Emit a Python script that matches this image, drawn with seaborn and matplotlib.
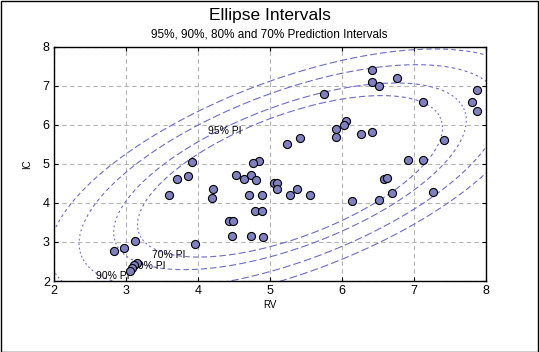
import numpy as np
import pandas as pd
import matplotlib
matplotlib.use("Agg")
import matplotlib.pyplot as plt
import seaborn as sns

# values
rv = [3.92, 3.86, 3.71, 3.60, 3.12, 2.97, 2.84, 3.96, 3.15, 3.11, 3.08, 3.05,
      5.41, 5.24, 4.85, 4.76, 4.53, 4.64, 4.74, 4.81, 4.21, 4.19, 5.06, 5.10,
      5.10, 4.71, 4.89, 5.28, 5.38, 5.56, 4.79, 4.89, 4.43, 4.49, 4.47, 4.74,
      4.90, 6.41, 6.77, 6.41, 6.51, 5.75, 6.06, 6.03, 5.91, 5.91, 6.26, 6.41,
      6.91, 6.58, 6.62, 7.88, 7.12, 7.81, 7.87, 7.41, 7.12, 7.26, 6.70, 6.52,
      6.14]
ic = [5.05, 4.69, 4.62, 4.21, 3.03, 2.85, 2.77, 2.95, 2.46, 2.41, 2.33, 2.26,
      5.67, 5.51, 5.08, 5.03, 4.72, 4.62, 4.72, 4.59, 4.36, 4.13, 4.51, 4.51,
      4.36, 4.21, 4.21, 4.21, 4.36, 4.21, 3.79, 3.79, 3.54, 3.54, 3.15, 3.15,
      3.13, 7.41, 7.21, 7.10, 7.00, 6.79, 6.10, 6.00, 5.90, 5.69, 5.77, 5.82,
      5.10, 4.62, 4.64, 6.90, 6.59, 6.59, 6.36, 5.62, 5.10, 4.28, 4.26, 4.08,
      4.05]
levels = [0.95, 0.90, 0.80, 0.70]
ellipse_corr = 0.60

df = pd.DataFrame({"RV": rv, "IC": ic})
n = len(df)

# prediction ellipses: centre and spread from the sample
mean = df[["RV", "IC"]].mean().values
sx, sy = df["RV"].std(), df["IC"].std()
cov = np.array([[sx**2, ellipse_corr * sx * sy], [ellipse_corr * sx * sy, sy**2]])
lam, vec = np.linalg.eigh(cov)
big, small = vec[:, 1] * np.sqrt(lam[1]), vec[:, 0] * np.sqrt(lam[0])

# rough pixels per data unit, only used to break the lines like the original
pix = np.array([71.8, 39.0])


def ellipse_pts(r, tt):
    return mean[:, None] + r * (np.outer(big, np.cos(tt)) + np.outer(small, np.sin(tt)))


rows = []
for p in levels:
    r = np.sqrt(-2 * np.log(1 - p) * (n + 1) / n)
    fine = np.linspace(0, 2 * np.pi, 721)
    speed = np.hypot(*(np.diff(ellipse_pts(r, fine), axis=1) * pix[:, None])).max() / (fine[1] - fine[0])
    nseg = int(2 * np.pi * speed / 11)
    dt = 2 * np.pi / nseg
    for i in range(nseg):
        t = i * dt + 0.3
        ends = ellipse_pts(r, np.array([t, t + dt]))
        seglen = np.hypot(*((ends[:, 1] - ends[:, 0]) * pix))
        frac = max(0.15, (seglen - 4.2) / seglen)
        pts = ellipse_pts(r, np.linspace(t, t + frac * dt, 4))
        rows.append(pd.DataFrame({"RV": pts[0], "IC": pts[1], "seg": f"{p}-{i}"}))
ell = pd.concat(rows, ignore_index=True)

fig = plt.figure(figsize=(5.39, 3.52), dpi=100)
plt.rcParams['font.family'] = ['Liberation Sans', 'DejaVu Sans']
ax = fig.add_axes([0.1002, 0.2017, 0.8015, 0.6648])

sns.lineplot(data=ell, x="RV", y="IC", units="seg", estimator=None, sort=False,
             ax=ax, color="#6c6cc6", lw=0.8, legend=False)

sns.scatterplot(data=df, x="RV", y="IC", ax=ax, s=34, color="#8080c0",
                edgecolor="black", linewidth=0.8, zorder=5)

ax.set_xlim(2, 8)
ax.set_ylim(2, 8)
ax.set_xticks(range(2, 9))
ax.set_yticks(range(2, 9))
ax.grid(True, color="#b4b4b4", linestyle=(0, (4, 3)), linewidth=0.8)
ax.set_axisbelow(True)
for s in ax.spines.values():
    s.set_color("black")
    s.set_linewidth(1.0)
ax.tick_params(direction="in", length=3, labelsize=9, right=True, top=True, pad=3)
ax.set_xlabel("RV", fontsize=7, labelpad=2)
ax.set_ylabel("IC", fontsize=7, labelpad=8)

ax.text(4.14, 5.85, "95% PI", fontsize=7.5, va="center")
ax.text(3.36, 2.67, "70% PI", fontsize=7.5, va="center")
ax.text(3.09, 2.38, "80% PI", fontsize=7.5, va="center")
ax.text(2.58, 2.13, "90% PI", fontsize=7.5, va="center")

fig.text(0.5, 0.955, "Ellipse Intervals", ha="center", va="center", fontsize=12.5)
fig.text(0.5, 0.902, "95%, 90%, 80% and 70% Prediction Intervals", ha="center", va="center", fontsize=8.5)
fig.patches.append(plt.Rectangle((0.001, 0.001), 0.997, 0.996, transform=fig.transFigure,
                                 fill=False, edgecolor="black", lw=1))

fig.savefig("out.png", dpi=100)
